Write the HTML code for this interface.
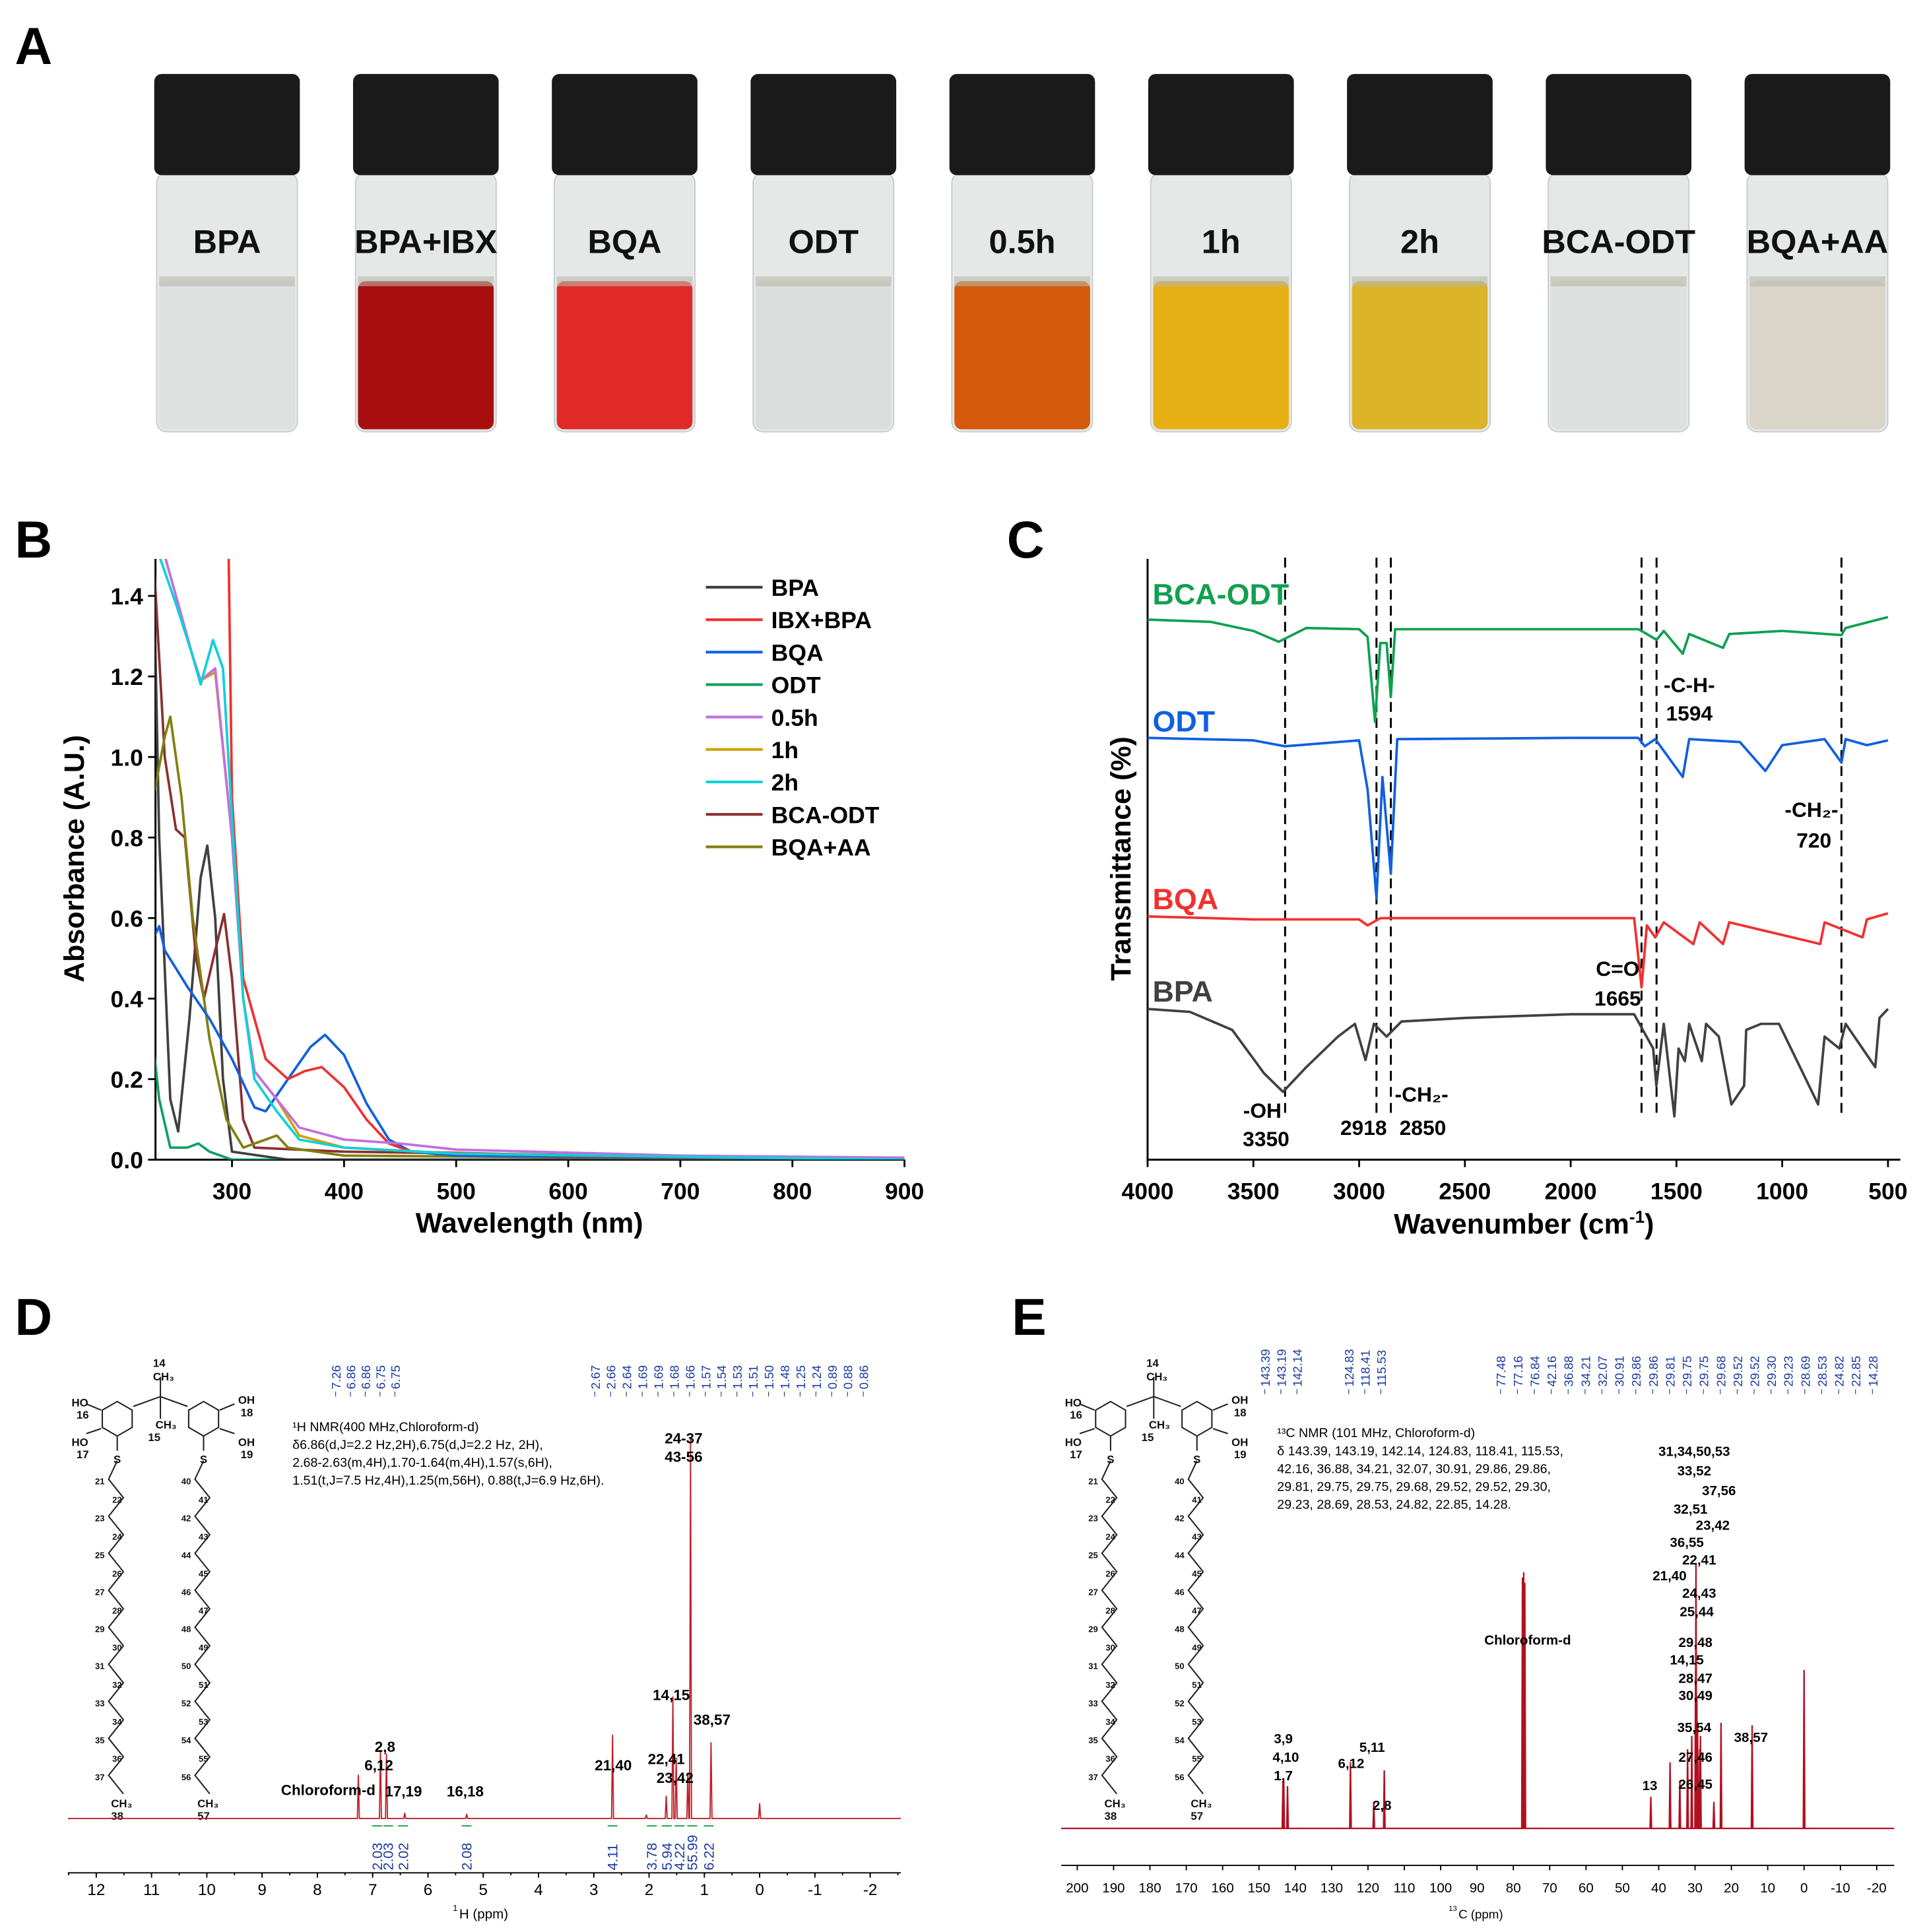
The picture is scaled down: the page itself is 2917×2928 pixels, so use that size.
<!DOCTYPE html>
<html><head><meta charset="utf-8">
<style>
html,body{margin:0;padding:0;background:#fff;}
svg{display:block;font-family:"Liberation Sans",Arial,sans-serif;}
.b{font-weight:bold;}
</style></head>
<body>
<svg id="fig" width="2917" height="2928" viewBox="0 0 1560 1566" preserveAspectRatio="none" xmlns="http://www.w3.org/2000/svg">
<rect x="0" y="0" width="1560" height="1566" fill="#fff"/>
<text x="12" y="52" font-size="42" class="b">A</text>
<text x="12" y="452" font-size="42" class="b">B</text>
<text x="816" y="452" font-size="42" class="b">C</text>
<text x="12" y="1082" font-size="42" class="b">D</text>
<text x="820" y="1082" font-size="42" class="b">E</text>
<g id="pa"></g>
<g id="pb"></g>
<g id="pc"></g>
<g id="pd"></g>
<g id="pe"></g>
</svg>
<script>
// ---------- DATA ----------
const vialLabels=["BPA","BPA+IBX","BQA","ODT","0.5h","1h","2h","BCA-ODT","BQA+AA"];
const vialColors=["#dfe1e1","#a80e0e","#e02a2a","#dcdddd","#d45a0c","#e6b014","#dcb42a","#dedfdf","#d9d5c8"];

const uvSeries=["BPA","IBX+BPA","BQA","ODT","0.5h","1h","2h","BCA-ODT","BQA+AA"];
const uvColors=["#404040","#f03030","#1060e0","#10a060","#c070e0","#d0a000","#10d0d8","#8b3030","#808010"];
const uvBPA=[[230,1.5],[235,0.8],[245,0.15],[252,0.07],[262,0.35],[272,0.7],[278,0.78],[285,0.6],[292,0.2],[300,0.02],[350,0.0],[900,0]];
const uvIBX=[[297,1.5],[300,0.9],[310,0.45],[330,0.25],[350,0.2],[365,0.22],[380,0.23],[400,0.18],[420,0.1],[440,0.04],[460,0.02],[600,0.01],[900,0]];
const uvBQA=[[230,0.55],[235,0.58],[240,0.52],[260,0.43],[280,0.35],[300,0.25],[320,0.13],[330,0.12],[350,0.2],[370,0.28],[383,0.31],[400,0.26],[420,0.14],[440,0.05],[460,0.02],[500,0.01],[900,0]];
const uvODT=[[230,0.28],[235,0.15],[245,0.03],[260,0.03],[270,0.04],[280,0.02],[300,0.0],[900,0]];
const uvH05=[[240,1.5],[250,1.4],[265,1.25],[272,1.19],[285,1.22],[300,0.8],[310,0.4],[320,0.22],[340,0.15],[360,0.08],[400,0.05],[450,0.04],[500,0.025],[700,0.01],[900,0.005]];
const uvH1=[[240,1.5],[250,1.4],[265,1.25],[272,1.19],[285,1.21],[300,0.8],[310,0.4],[320,0.22],[340,0.15],[360,0.06],[400,0.03],[500,0.015],[900,0]];
const uvH2=[[235,1.5],[250,1.38],[265,1.25],[272,1.18],[283,1.29],[292,1.22],[300,0.85],[310,0.4],[320,0.2],[340,0.12],[360,0.05],[400,0.03],[500,0.015],[900,0]];
const uvBCA=[[230,1.5],[240,1.0],[250,0.82],[258,0.8],[268,0.5],[275,0.4],[285,0.52],[293,0.61],[300,0.45],[310,0.1],[320,0.03],[400,0.02],[900,0]];
const uvAA=[[230,0.9],[240,1.05],[245,1.1],[255,0.9],[265,0.6],[280,0.3],[295,0.1],[310,0.03],[330,0.05],[340,0.06],[350,0.03],[400,0.01],[900,0]];
const uvX=[300,400,500,600,700,800,900];
const uvY=[0.0,0.2,0.4,0.6,0.8,1.0,1.2,1.4];

const irNames=["BCA-ODT","ODT","BQA","BPA"];
const irColors=["#10a050","#1060e0","#f03030","#404040"];
const irBCA=[[4000,89.9],[3700,89.5],[3500,88],[3380,86.2],[3250,88.5],[3000,88.3],[2960,87],[2925,72.9],[2900,86],[2870,86],[2850,77],[2830,88.3],[2000,88.3],[1680,88.3],[1640,87.5],[1594,86.5],[1560,88],[1470,84.2],[1440,87.5],[1280,85.2],[1250,87.5],[1000,88],[720,87.3],[700,88.5],[500,90.3]];
const irODT=[[4000,70.2],[3500,69.8],[3350,68.8],[3000,69.8],[2960,61.6],[2918,43.5],[2890,63.7],[2850,47.6],[2820,70],[2000,70.2],[1680,70.2],[1650,68.8],[1600,70],[1470,63.7],[1440,70],[1200,69.5],[1080,64.7],[1000,69],[800,70],[720,66.1],[700,70],[600,69],[500,69.8]];
const irBQA=[[4000,40.5],[3500,40],[3000,40],[2960,39],[2900,40.2],[1700,40.2],[1665,28.7],[1640,39],[1600,37],[1560,39.5],[1420,35.9],[1390,39.5],[1280,35.9],[1250,39.5],[820,35.9],[800,39.5],[620,37],[600,40],[500,41]];
const irBPA=[[4000,25.1],[3800,24.6],[3600,21.6],[3450,14.4],[3360,11.3],[3250,15.4],[3100,20.5],[3020,22.6],[2970,16.6],[2930,22.6],[2870,20.5],[2800,23],[2500,23.6],[2000,24.2],[1700,24.2],[1610,18.5],[1595,12.3],[1560,22.6],[1510,7.2],[1490,18.5],[1460,16.4],[1440,22.6],[1380,16.4],[1360,22.6],[1300,20.5],[1240,9.2],[1180,12.3],[1170,21.6],[1100,22.6],[1015,22.6],[830,9.2],[800,20.5],[730,18.5],[700,22.6],[560,15.4],[540,23.6],[500,25.1]];
const irX=[4000,3500,3000,2500,2000,1500,1000,500];
const irMarks=[3350,2918,2850,1665,1594,720];

const hPpm=[7.26,6.86,6.75,6.42,5.30,2.66,2.05,1.69,1.57,1.51,1.30,1.25,0.88,0.0];
const hInt=[0.115,0.18,0.17,0.015,0.012,0.22,0.01,0.06,0.32,0.16,0.12,1.0,0.2,0.04];
const hTicks=[12,11,10,9,8,7,6,5,4,3,2,1,0,-1,-2];
const hTopA=["7.26","6.86","6.86","6.75","6.75"];
const hTopB=["2.67","2.66","2.64","1.69","1.69","1.68","1.66","1.57","1.54","1.53","1.51","1.50","1.48","1.25","1.24","0.89","0.88","0.86"];
const hIntLbl=[["2.03",6.92],["2.03",6.72],["2.02",6.45],["2.08",5.30],["4.11",2.66],["3.78",1.95],["5.94",1.68],["4.22",1.45],["55.99",1.22],["6.22",0.92]];

const cPpm=[143.39,143.19,142.14,124.83,118.41,115.53,77.48,77.16,76.84,42.16,36.88,34.21,32.07,30.91,29.86,29.75,29.52,29.3,28.69,28.53,24.82,22.85,14.28,0];
const cInt=[0.18,0.18,0.16,0.25,0.1,0.22,0.95,0.97,0.93,0.12,0.25,0.18,0.3,0.35,0.6,1.0,0.5,0.4,0.3,0.35,0.1,0.4,0.39,0.6];
const cTicks=[200,190,180,170,160,150,140,130,120,110,100,90,80,70,60,50,40,30,20,10,0,-10,-20];
const cTopA=["143.39","143.19","142.14"];
const cTopB=["124.83","118.41","115.53"];
const cTopC=["77.48","77.16","76.84","42.16","36.88","34.21","32.07","30.91","29.86","29.86","29.81","29.75","29.75","29.68","29.52","29.52","29.30","29.23","28.69","28.53","24.82","22.85","14.28"];

// ---------- HELPERS ----------
const NS="http://www.w3.org/2000/svg";
function mk(tag,attrs,parent){const e=document.createElementNS(NS,tag);for(const k in attrs)e.setAttribute(k,attrs[k]);parent.appendChild(e);return e;}
function txt(parent,x,y,s,size,opts){const e=mk('text',Object.assign({x:x,y:y,'font-size':size},opts||{}),parent);e.textContent=s;return e;}

// ---------- PANEL A ----------
(function(){
const g=document.getElementById('pa');
vialLabels.forEach((lab,i)=>{
  const cx=184+i*161.1, w=118, x=cx-w/2;
  const vg=mk('g',{},g);
  
  
  const glass=mk('rect',{x:x+2,y:140,width:w-4,height:210,rx:8,fill:'#e6e8e8',stroke:'#c8cccc','stroke-width':1},vg);
  
  
  const liq=mk('rect',{x:x+4,y:228,width:w-8,height:120,rx:6,fill:vialColors[i]},vg);
  
  
  const men=mk('rect',{x:x+4,y:224,width:w-8,height:8,fill:'#b8b8a8',opacity:0.6},vg);
  
  
  const cap=mk('rect',{x:x,y:60,width:w,height:82,rx:6,fill:'#1a1a1a'},vg);
  
  
  const t=txt(vg,cx,205,lab,27,{'text-anchor':'middle','font-weight':'bold',fill:'#111'});
  
  
});
})();

// ---------- PANEL B ----------
(function(){
const g=document.getElementById('pb');
const L=126,R=733,T=453,B=940;
const xs=v=>188+(v-300)*(733-188)/600;
const ys=v=>940-v*(940-483)/1.4;
const clip=mk('clipPath',{id:'cb'},g);mk('rect',{x:L,y:T,width:R-L,height:B-T},clip);
const frame=mk('path',{d:`M${L},${T}V${B}H${R}`,fill:'none',stroke:'#000','stroke-width':1.6},g);


uvX.forEach(v=>{mk('line',{x1:xs(v),x2:xs(v),y1:B,y2:B+6,stroke:'#000','stroke-width':1.5},g);
  const t=txt(g,xs(v),B+32,String(v),19,{'text-anchor':'middle','font-weight':'bold'});
  
  });
uvY.forEach(v=>{mk('line',{x1:L-6,x2:L,y1:ys(v),y2:ys(v),stroke:'#000','stroke-width':1.5},g);
  const t=txt(g,L-10,ys(v)+7,v.toFixed(1),19,{'text-anchor':'end','font-weight':'bold'});
  
  });
const xt=txt(g,429,999,'Wavelength (nm)',23,{'text-anchor':'middle','font-weight':'bold'});


const yt=txt(g,0,0,'Absorbance (A.U.)',23,{'text-anchor':'middle','font-weight':'bold',transform:'translate(68,696) rotate(-90)'});


const data=[uvBPA,uvIBX,uvBQA,uvODT,uvH05,uvH1,uvH2,uvBCA,uvAA];
const order=[3,0,7,8,2,1,5,4,6];
order.forEach(i=>{
  const d=data[i].map((p,j)=>(j?'L':'M')+xs(p[0]).toFixed(1)+','+ys(p[1]).toFixed(1)).join('');
  const pth=mk('path',{d:d,fill:'none',stroke:uvColors[i],'stroke-width':2,'clip-path':'url(#cb)','stroke-linejoin':'round'},g);
  
  
});
uvSeries.forEach((s,i)=>{
  const y=476+i*26.3;
  const le=mk('g',{},g);
  
  
  mk('line',{x1:572,x2:618,y1:y,y2:y,stroke:uvColors[i],'stroke-width':2.2},le);
  txt(le,625,y+7,s,19,{'font-weight':'bold'});
});
})();

// ---------- PANEL C ----------
(function(){
const g=document.getElementById('pc');
const L=930,R=1540,T=453,B=940;
const xs=v=>930+(4000-v)*(1530-930)/3500;
const ys=v=>940-v*4.87;
const frame=mk('path',{d:`M${L},${T}V${B}H${R}`,fill:'none',stroke:'#000','stroke-width':1.6},g);


irX.forEach(v=>{mk('line',{x1:xs(v),x2:xs(v),y1:B,y2:B+6,stroke:'#000','stroke-width':1.5},g);
  const t=txt(g,xs(v),B+32,String(v),19,{'text-anchor':'middle','font-weight':'bold'});
  
  });
const xt=txt(g,1235,1000,'Wavenumber (cm',23,{'text-anchor':'middle','font-weight':'bold'});


const ts=mk('tspan',{'font-size':14,dy:-9},xt);ts.textContent='-1';
const ts2=mk('tspan',{dy:9},xt);ts2.textContent=')';
const yt=txt(g,0,0,'Transmittance (%)',23,{'text-anchor':'middle','font-weight':'bold',transform:'translate(916,696) rotate(-90)'});


irMarks.forEach(v=>{const l=mk('line',{x1:xs(v),x2:xs(v),y1:452,y2:902,stroke:'#000','stroke-width':1.6,'stroke-dasharray':'8,5'},g);
  
  });
const data=[irBCA,irODT,irBQA,irBPA];
data.forEach((arr,i)=>{
  const d=arr.map((p,j)=>(j?'L':'M')+xs(p[0]).toFixed(1)+','+ys(p[1]).toFixed(1)).join('');
  const pth=mk('path',{d:d,fill:'none',stroke:irColors[i],'stroke-width':2,'stroke-linejoin':'round'},g);
  
  
});
const nameY=[490,593,737,812];
irNames.forEach((n,i)=>{const t=txt(g,934,nameY[i],n,24,{'font-weight':'bold',fill:irColors[i]});
  
  });
const ann=[["-OH",1023,906],["3350",1026,929],["2918",1105,920],["-CH\u2082-",1152,893],["2850",1153,920],["C=O",1311,791],["1665",1311,815],["-C-H-",1369,561],["1594",1369,584],["-CH\u2082-",1468,662],["720",1470,687]];
ann.forEach(a=>{const t=txt(g,a[1],a[2],a[0],17,{'text-anchor':'middle','font-weight':'bold'});
  
  });
})();

// ---------- structures ----------
function structure(g,ox){
  const s=mk('g',{transform:`translate(${ox},0)`,stroke:'#222','stroke-width':1.1,fill:'none'},g);
  
  
  const hex=(cx,cy)=>{let d='';for(let k=0;k<6;k++){const a=Math.PI/6+k*Math.PI/3;d+=(k?'L':'M')+(cx+14*Math.cos(a)).toFixed(1)+','+(cy+14*Math.sin(a)).toFixed(1);}mk('path',{d:d+'Z'},s);};
  hex(95,1150);hex(165,1150);
  mk('path',{d:'M108,1140L130,1132L152,1140M130,1132V1116M130,1132V1150M82,1143L70,1138M82,1158L70,1162M178,1143L190,1138M178,1158L190,1162M95,1164V1176M165,1164V1176'},s);
  [[82,1176],[152,1176]].forEach(p=>{let d='M'+(p[0]+13)+','+(p[1]+8);for(let k=1;k<=18;k++){d+='L'+(p[0]+(k%2?6:18))+','+(p[1]+8+k*15);}mk('path',{d:d},s);});
  const tg=mk('g',{stroke:'none',fill:'#111','font-size':9,'font-weight':'bold'},s);
  [["HO",58,1140],["16",62,1150],["HO",58,1172],["17",62,1182],["OH",193,1138],["18",195,1148],["OH",193,1172],["19",195,1182],["14",124,1108],["CH\u2083",124,1119],["CH\u2083",126,1158],["15",120,1168],["S",92,1186],["S",162,1186],["CH\u2083",90,1465],["38",90,1475],["CH\u2083",160,1465],["57",160,1475]].forEach(a=>txt(tg,a[1],a[2],a[0],9));
  for(let k=0;k<17;k++){txt(tg,77+(k%2?14:0),1203+k*15,String(21+k),7);txt(tg,147+(k%2?14:0),1203+k*15,String(40+k),7);}
}

// ---------- PANEL D ----------
(function(){
const g=document.getElementById('pd');
const xs=p=>78+(12-p)*44.8;
const base=1474, H=1474-1165, AX=1518;
structure(g,0);
mk('line',{x1:55,x2:730,y1:AX,y2:AX,stroke:'#000','stroke-width':1},g);
hTicks.forEach(v=>{mk('line',{x1:xs(v),x2:xs(v),y1:AX,y2:AX+4,stroke:'#000'},g);
  const t=txt(g,xs(v),AX+18,String(v),13,{'text-anchor':'middle'});
  
  });
for(let v=12.5;v>-2.6;v-=0.5){mk('line',{x1:xs(v),x2:xs(v),y1:AX,y2:AX+2,stroke:'#000'},g);}
const xt=txt(g,392,1555,'H (ppm)',11,{'text-anchor':'middle'});


txt(g,367,1549,'1',7);
let d='M55,'+base;
const idx=hPpm.map((p,i)=>i).sort((a,b)=>hPpm[b]-hPpm[a]);
idx.forEach(i=>{const x=xs(hPpm[i]);d+=`L${(x-0.8).toFixed(1)},${base}L${x.toFixed(1)},${(base-hInt[i]*H).toFixed(1)}L${(x+0.8).toFixed(1)},${base}`;});
d+='L730,'+base;
const sp=mk('path',{d:d,fill:'none',stroke:'#c0202a','stroke-width':1},g);


const top=(arr,x0,step)=>arr.forEach((s,i)=>{const x=x0+i*step;const t=txt(g,0,0,s,10,{fill:'#1a3aa0',transform:`translate(${x+4},1126) rotate(-90)`});
  
  
  mk('line',{x1:x,x2:x,y1:1128,y2:1132,stroke:'#1a3aa0','stroke-width':0.6},g);});
top(hTopA,272,12);top(hTopB,482,12.8);
hIntLbl.forEach(a=>{const x=xs(a[1]);const t=txt(g,0,0,a[0],11.5,{fill:'#1a3aa0',transform:`translate(${x+4},1516) rotate(-90)`,'text-anchor':'start'});
  
  
  mk('line',{x1:x-4,x2:x+4,y1:1480,y2:1480,stroke:'#1a9a40','stroke-width':1},g);});
const info=["\u00B9H NMR(400 MHz,Chloroform-d)","\u03B46.86(d,J=2.2 Hz,2H),6.75(d,J=2.2 Hz, 2H),","2.68-2.63(m,4H),1.70-1.64(m,4H),1.57(s,6H),","1.51(t,J=7.5 Hz,4H),1.25(m,56H), 0.88(t,J=6.9 Hz,6H)."];
info.forEach((s,i)=>{const t=txt(g,237,1160+i*14.5,s,10.5);});
[["24-37",554,1170],["43-56",554,1185],["14,15",544,1378],["38,57",577,1398],["22,41",540,1430],["23,42",547,1445],["21,40",497,1435],["2,8",312,1420],["6,12",307,1435],["17,19",327,1456],["16,18",377,1456],["Chloroform-d",266,1455]].forEach(a=>{
  const t=txt(g,a[1],a[2],a[0],12,{'text-anchor':'middle','font-weight':'bold'});
  
  });
})();

// ---------- PANEL E ----------
(function(){
const g=document.getElementById('pe');
const xs=p=>873+(200-p)*2.945;
const base=1482, H=1482-1268;
structure(g,805);
mk('line',{x1:860,x2:1535,y1:1512,y2:1512,stroke:'#000','stroke-width':1},g);
cTicks.forEach(v=>{mk('line',{x1:xs(v),x2:xs(v),y1:1512,y2:1516,stroke:'#000'},g);
  const t=txt(g,xs(v),1534,String(v),11,{'text-anchor':'middle'});
  
  });
const xt=txt(g,1200,1555,'C (ppm)',10,{'text-anchor':'middle'});


txt(g,1174,1549,'13',6);
let d='M860,'+base;
const idx=cPpm.map((p,i)=>i).sort((a,b)=>cPpm[b]-cPpm[a]);
idx.forEach(i=>{const x=xs(cPpm[i]);d+=`L${(x-0.6).toFixed(1)},${base}L${x.toFixed(1)},${(base-cInt[i]*H).toFixed(1)}L${(x+0.6).toFixed(1)},${base}`;});
d+='L1535,'+base;
const sp=mk('path',{d:d,fill:'none',stroke:'#b01020','stroke-width':1.2},g);


const top=(arr,x0,step)=>arr.forEach((s,i)=>{const x=x0+i*step;const t=txt(g,0,0,s,10,{fill:'#1a3aa0',transform:`translate(${x+4},1124) rotate(-90)`});
  
  
  mk('line',{x1:x,x2:x,y1:1126,y2:1130,stroke:'#1a3aa0','stroke-width':0.6},g);});
top(cTopA,1025,13);top(cTopB,1093,13);top(cTopC,1216,13.7);
const info=["\u00B9\u00B3C NMR (101 MHz, Chloroform-d)","\u03B4 143.39, 143.19, 142.14, 124.83, 118.41, 115.53,","42.16, 36.88, 34.21, 32.07, 30.91, 29.86, 29.86,","29.81, 29.75, 29.75, 29.68, 29.52, 29.52, 29.30,","29.23, 28.69, 28.53, 24.82, 22.85, 14.28."];
info.forEach((s,i)=>{const t=txt(g,1035,1165+i*14.5,s,10.5);});
[["31,34,50,53",1373,1180],["33,52",1373,1196],["37,56",1393,1212],["32,51",1370,1227],["23,42",1388,1240],["36,55",1367,1254],["22,41",1377,1268],["21,40",1353,1281],["24,43",1377,1295],["25,44",1375,1310],["Chloroform-d",1238,1333],["29,48",1374,1335],["14,15",1367,1349],["28,47",1374,1364],["30,49",1374,1378],["35,54",1373,1404],["27,46",1374,1428],["26,45",1374,1450],["38,57",1419,1412],["13",1337,1451],["3,9",1040,1413],["4,10",1042,1428],["1,7",1040,1443],["6,12",1095,1433],["5,11",1112,1420],["2,8",1120,1467]].forEach(a=>{
  const t=txt(g,a[1],a[2],a[0],11,{'text-anchor':'middle','font-weight':'bold'});
  
  });
})();
</script>
</body></html>
